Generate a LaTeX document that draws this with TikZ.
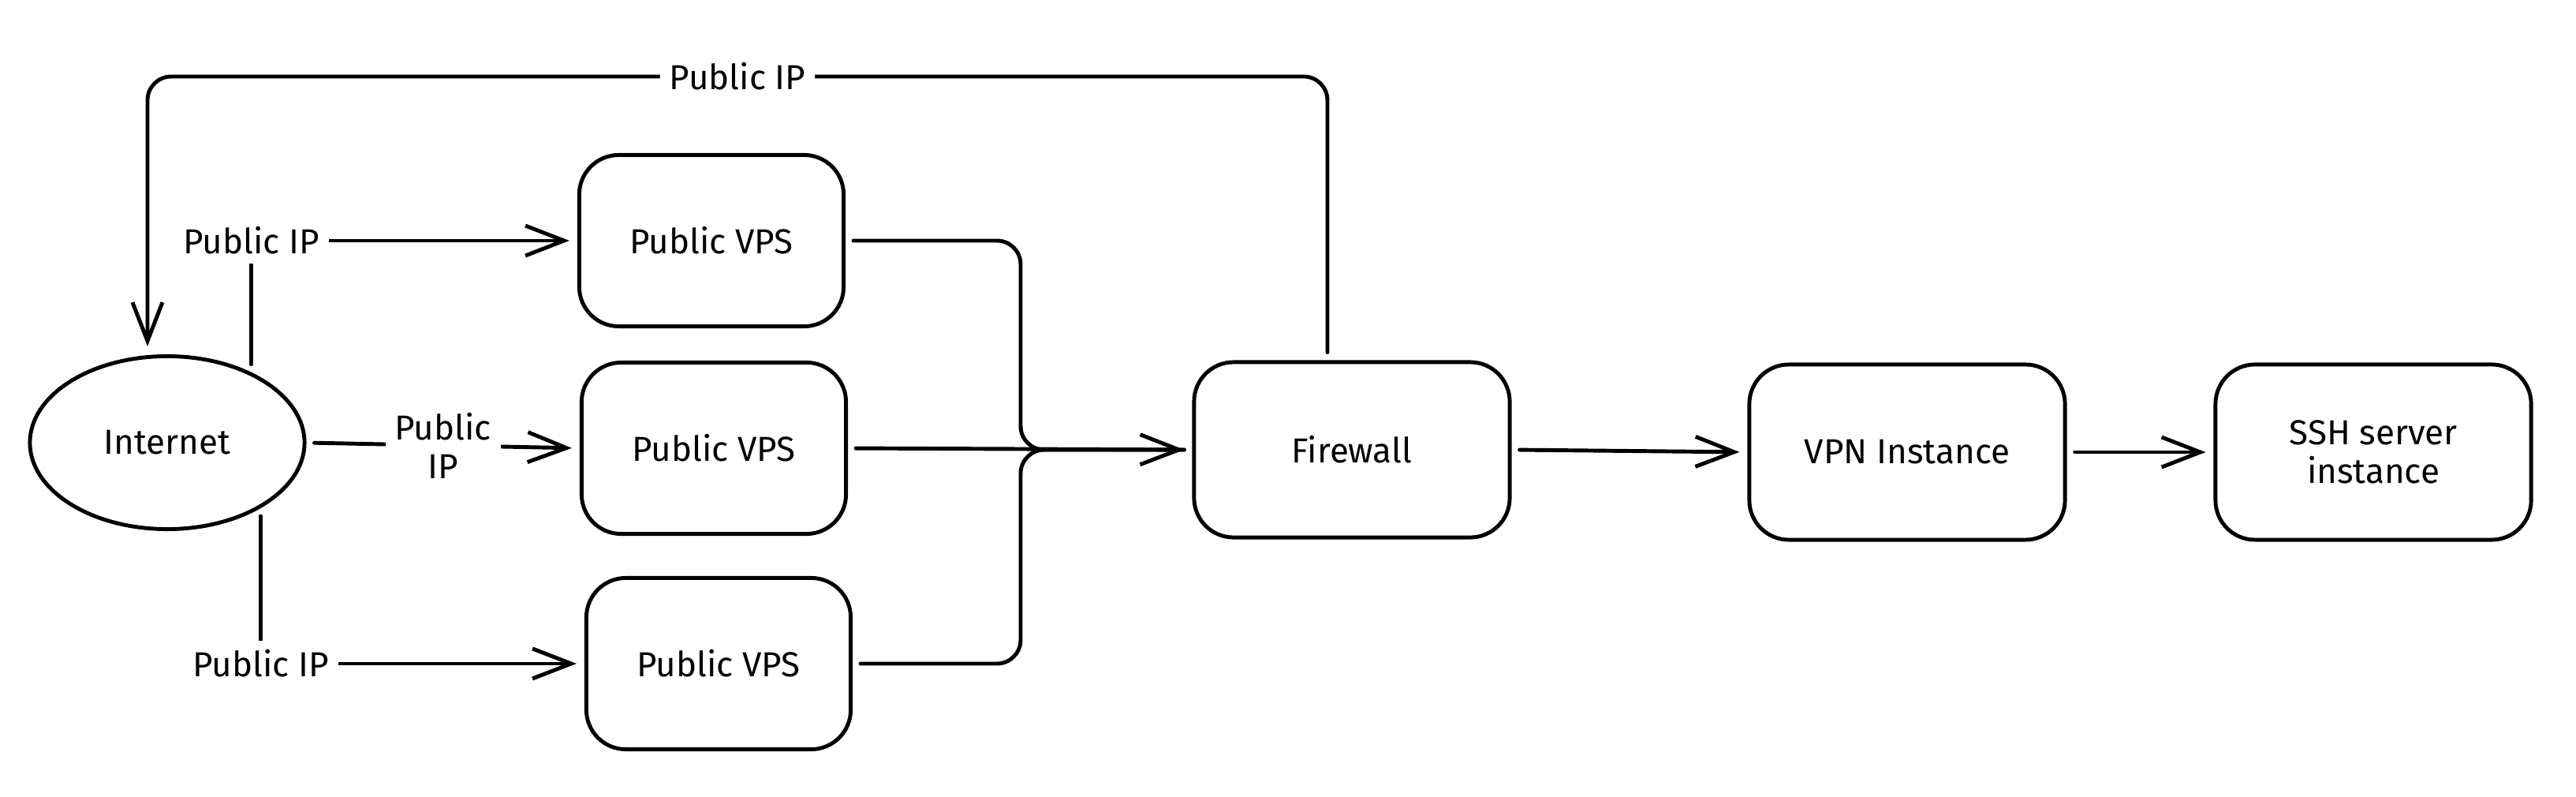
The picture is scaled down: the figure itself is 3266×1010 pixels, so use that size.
\documentclass[tikz,border=0pt]{standalone}
\usepackage{fontspec}
\setmainfont{Fira Sans}
\usetikzlibrary{arrows.meta,shapes.geometric}
\begin{document}
\begin{tikzpicture}[x=0.01cm,y=-0.01cm,>={Straight Barb[length=4.9mm,width=3.8mm]},
	line width=1.4pt, line join=round, line cap=round, font=\fontsize{12.5}{14}\selectfont,
	box/.style={draw, rounded corners=0.5cm, minimum width=3.35cm, minimum height=2.17cm, align=center},
	lbl/.style={fill=white, inner sep=1.2mm, align=center},
	link/.style={shorten <=1mm, shorten >=1mm}]
	\useasboundingbox (0,0) rectangle (3266,1010);
	\def\bw{4cm} \def\bh{2.22cm} % o ben phai
	\node[draw, ellipse, inner sep=0, minimum width=3.48cm, minimum height=2.19cm] (net) at (212,561) {Internet};
	\foreach \i/\x/\y in {1/902/305, 2/905/568, 3/911/841}{
		\node[box] (vps\i) at (\x,\y) {Public VPS};
	}
	\node[box, minimum width=\bw, minimum height=\bh] (fw) at (1714,570) {Firewall};
	\node[box, minimum width=\bw, minimum height=\bh] (vpn) at (2418,573) {VPN Instance};
	\node[box, minimum width=\bw, minimum height=\bh] (ssh) at (3009,573) {SSH server\\instance};
	\coordinate (topL) at (187,97);
	\coordinate (bus) at (1294,570);
	% vong ve Internet
	\draw[->, rounded corners=3mm, link] ([xshift=-3.1mm]fw.north) |- node[lbl, pos=0.75]{Public IP} (topL) -- ([xshift=-2.5mm]net.north);
	\draw[->, link] (net.40) |- node[lbl]{Public IP} (vps1.west);
	\draw[->, link] (net.east) -- node[lbl]{Public\\IP} (vps2.west);
	\draw[->, link] (net.-35) |- node[lbl]{Public IP} (vps3.west);
	% gop vao Firewall
	\draw[rounded corners=3mm, link] (vps1.east) -| (bus) -- (fw.west);
	\draw[rounded corners=3mm, link] (vps3.east) -| (bus) -- (fw.west);
	\draw[->, link] (vps2.east) -- (fw.west);
	\draw[->, link] (fw.east) -- (vpn.west);
	\draw[->, link] (vpn.east) -- (ssh.west);
\end{tikzpicture}
\end{document}
